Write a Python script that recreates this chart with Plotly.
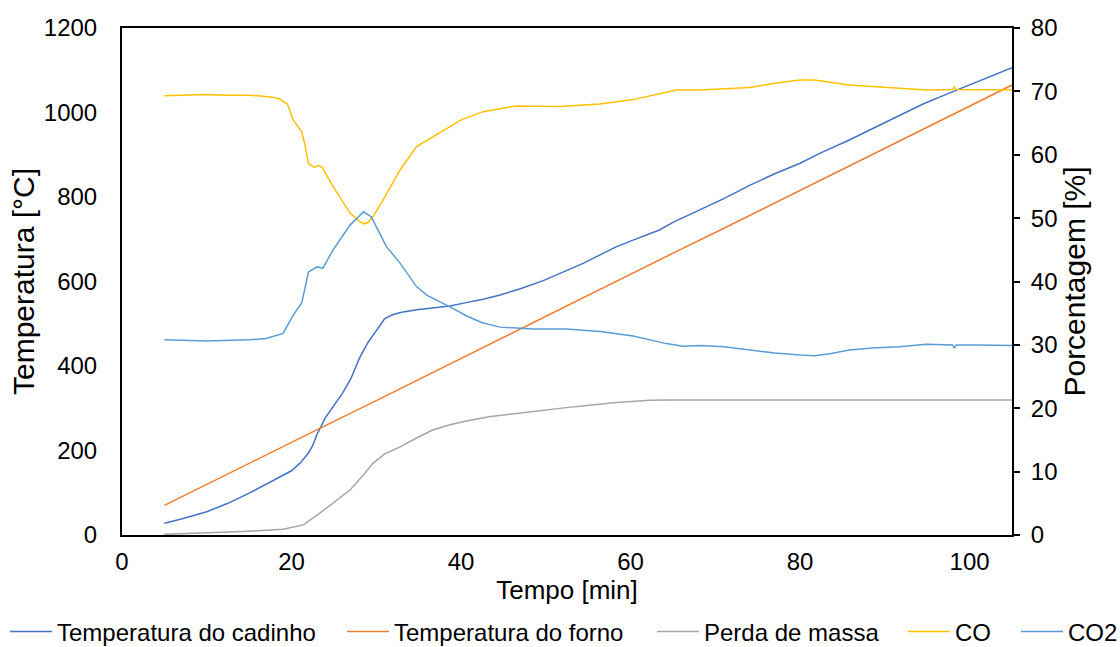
import plotly.graph_objects as go

# --- data ---
t_cadinho = [5, 7, 10, 12.5, 15, 17.5, 20, 21, 22, 22.5, 23, 24, 25, 26, 27, 28, 29, 30, 31, 32, 33,
             34.75, 36.7, 38.7, 40.6, 42.6, 44.6, 47, 49.7, 52, 54.4, 56.4, 58.3, 60.3, 63.4, 65,
             68.2, 71, 74.1, 77, 80, 82.5, 85.8, 88.5, 91.7, 94.5, 97.6, 101, 105]
temp_cadinho = [28, 38, 55, 75, 99, 125, 152, 170, 194, 212, 238, 278, 305, 335, 370, 418, 455, 485, 512, 522, 527,
                533, 538, 542, 550, 558, 568, 583, 602, 622, 643, 663, 682, 698, 722, 740,
                769, 796, 828, 855, 880, 905, 935, 962, 994, 1020, 1046, 1074, 1106]

t_forno = [5, 10, 15, 20, 25, 30, 35, 40, 45, 50, 55, 60, 65, 70, 75, 80, 85, 90, 95, 100, 105]
temp_forno = [70, 120, 169, 219, 269, 318, 368, 418, 468, 517, 567, 617, 667, 716, 766, 816, 866, 915, 965, 1015, 1065]

t_perda = [5, 10, 15, 19, 21.4, 23.3, 25, 26.9, 28.5, 29.6, 31, 32.8, 34.75, 36.7, 38.7, 40.6, 43.5, 46.5,
           49.5, 52.4, 55.4, 58.3, 62.3, 64.2, 70, 80, 90, 105]
perda_massa = [0.1, 0.3, 0.6, 0.9, 1.6, 3.4, 5.2, 7.1, 9.5, 11.3, 12.8, 13.9, 15.3, 16.6, 17.4, 18.0, 18.7, 19.2,
               19.7, 20.1, 20.5, 20.9, 21.25, 21.3, 21.3, 21.3, 21.3, 21.3]

t_co = [5, 8, 10, 12, 15, 17, 18.5, 19.5, 20.2, 21.2, 21.6, 22.0, 22.7, 23.2, 23.6, 24.9, 26.9, 28.0, 28.5,
        29.0, 29.6, 31.0, 32.8, 34.75, 37.9, 40, 42.6, 46.5, 51.7, 56.4, 60.3, 64.2, 65.4, 68.2, 74.1, 77,
        80, 81.7, 83.5, 85.8, 91.7, 94.9, 98, 98.2, 98.4, 101, 105]
co = [69.3, 69.4, 69.5, 69.4, 69.4, 69.2, 68.9, 68.0, 65.5, 63.6, 61.5, 58.6, 58.0, 58.3, 58.0, 55.0, 50.8, 49.5, 49.1,
      49.3, 50.2, 53.3, 57.6, 61.3, 63.9, 65.5, 66.8, 67.7, 67.6, 68.0, 68.7, 69.8, 70.2, 70.2, 70.6, 71.3,
      71.8, 71.8, 71.5, 71.0, 70.5, 70.2, 70.3, 70.7, 70.3, 70.3, 70.2]

t_co2 = [5, 8, 10, 12, 15, 17, 19, 20.2, 21.2, 22, 23, 23.7, 24.9, 26.9, 28.5, 29.4, 31.2, 32.8, 34.75, 36,
         38.7, 40.6, 42.5, 44.6, 48.5, 52.4, 56.4, 60.3, 64.2, 66.2, 68.2, 71, 74.1, 77, 80, 81.7, 83.5,
         85.8, 88.5, 91.7, 94.9, 98, 98.2, 98.4, 101, 105]
co2 = [30.8, 30.7, 30.6, 30.7, 30.8, 31.0, 31.8, 34.7, 36.6, 41.5, 42.3, 42.1, 45.0, 48.9, 51.0, 50.2, 45.5, 42.9, 39.2, 37.8,
       36.0, 34.6, 33.5, 32.8, 32.5, 32.5, 32.1, 31.4, 30.2, 29.8, 29.9, 29.7, 29.2, 28.7, 28.4, 28.3, 28.6,
       29.2, 29.5, 29.7, 30.1, 30.0, 29.5, 30.0, 30.0, 29.9]

x_ticks = [0, 20, 40, 60, 80, 100]

FONT = "Liberation Sans, Arial, Helvetica, sans-serif"
W, H = 1120, 647

series = [
    ("Temperatura do cadinho", t_cadinho, temp_cadinho, "y", "#4472C4"),
    ("Temperatura do forno", t_forno, temp_forno, "y", "#ED7D31"),
    ("Perda de massa", t_perda, perda_massa, "y2", "#A5A5A5"),
    ("CO", t_co, co, "y2", "#FFC000"),
    ("CO2", t_co2, co2, "y2", "#5B9BD5"),
]
legend_ids = ["legend", "legend2", "legend3", "legend4", "legend5"]
legend_text_x = [57, 394, 704, 955, 1068]  # left edge of each legend label (px)

fig = go.Figure()
for (name, xs, ys, ax, color), lid in zip(series, legend_ids):
    fig.add_trace(go.Scatter(x=xs, y=ys, name=name, mode="lines", yaxis=ax, legend=lid,
                             line=dict(color=color, width=1.5)))

layout_legends = {}
for lid, tx in zip(legend_ids, legend_text_x):
    layout_legends[lid] = dict(orientation="h", xref="container", yref="container",
                               x=(tx - 52) / W, xanchor="left", y=(H - 632) / H, yanchor="middle",
                               font=dict(size=24, family=FONT, color="black"), itemwidth=42,
                               bgcolor="rgba(0,0,0,0)", borderwidth=0)

fig.update_layout(
    width=W, height=H,
    margin=dict(l=122, r=108, t=28, b=112),
    paper_bgcolor="white", plot_bgcolor="white",
    font=dict(family=FONT, size=24, color="black"),
    showlegend=True,
    xaxis=dict(range=[0, 105], tickvals=x_ticks, showgrid=False, zeroline=False, automargin=False,
               showline=True, linecolor="black", linewidth=2, mirror=True, ticks="",
               ticklabelstandoff=4,
               title=dict(text="Tempo [min]", standoff=7, font=dict(size=26))),
    yaxis=dict(range=[0, 1200], dtick=200, showgrid=False, zeroline=False, automargin=False,
               showline=True, linecolor="black", linewidth=2, ticks="", ticklabelstandoff=18,
               title=dict(text="Temperatura [°C]", standoff=0, font=dict(size=30))),
    yaxis2=dict(range=[0, 80], dtick=10, overlaying="y", side="right", showgrid=False, zeroline=False,
                automargin=False,
                showline=True, linecolor="black", linewidth=2, ticks="outside", ticklen=6,
                tickcolor="black", tickwidth=2, ticklabelstandoff=6,
                title=dict(text="Porcentagem [%]", standoff=6, font=dict(size=30))),
    **layout_legends,
)

fig.write_html("out.html", config={"displayModeBar": False},
               post_script="document.body.style.margin='0';document.body.style.overflow='hidden';")
